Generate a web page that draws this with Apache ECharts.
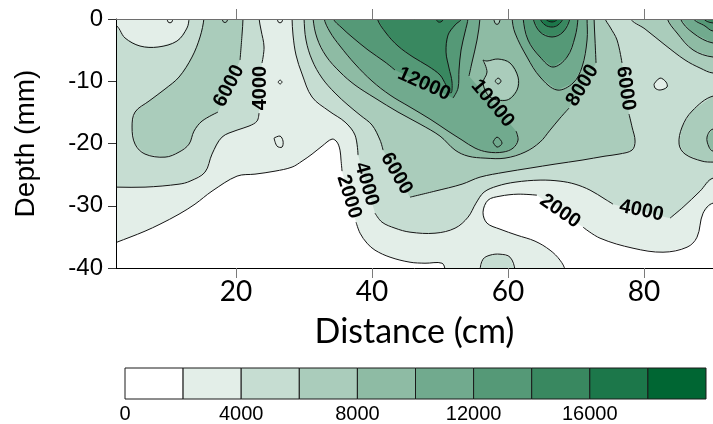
<!DOCTYPE html>
<html>
<head>
<meta charset="utf-8">
<script src="https://cdn.jsdelivr.net/npm/echarts@6/dist/echarts.min.js"></script>
<style>
  html, body { margin: 0; padding: 0; background: #ffffff; }
  #chart { width: 713px; height: 424px; }
</style>
</head>
<body>
<div id="chart"></div>
<script>
// Contour levels (one colour band per 2000 step) and the legend tick labels.
const levelEdges = [0, 2000, 4000, 6000, 8000, 10000, 12000, 14000, 16000, 18000, 20000];
const legendTicks = [0, 4000, 8000, 12000, 16000];
const distanceTicks = [20, 40, 60, 80];
const palette = ['#ffffff', '#e3eee8', '#c6ddd2', '#aaccbb', '#8ebba4',
                 '#71aa8e', '#559977', '#398860', '#1c774a', '#006633'];

// Filled contour regions, [distance cm, depth mm]. Each ring is the area at or above
// its level; null marks a break in the drawn contour line (where a label sits).
// Vertices beyond the plot edges are clipped away.
const band2000 = [[-2,3],[95,3],[95,-29.58],[90.15,-29.58],[88.68,-31.19],[87.79,-35.05],[86.32,-36.66],[82.79,-37.46],[78.38,-36.82],[73.53,-35.21],[71.03,-33.44],null,
  [64.26,-28.3],[61.47,-28.14],[58.82,-28.46],[57.06,-29.1],[56.32,-31.03],[56.91,-32.8],[58.82,-33.76],[61.32,-34.73],[63.97,-35.69],[66.18,-37.14],[67.65,-38.75],[68.38,-40.4],[68.4,-45],[50.7,-45],
  [50.74,-40.4],[50.29,-39.23],[47.79,-39.23],[45.59,-39.07],[42.65,-38.26],[40.44,-37.14],[39.26,-36.01],[38.24,-34.41],[37.65,-32.64],null,
  [35.59,-24.44],[35.44,-22.67],[35.29,-21.06],[34.85,-19.77],[34.12,-19.29],[32.65,-20.42],[31.18,-21.7],[29.71,-22.83],[28.24,-23.79],[25.74,-24.44],[22.79,-24.92],[20.15,-25.24],[16.47,-27.65],[13.97,-29.74],[11.62,-31.35],[8.82,-32.96],[6.62,-34.08],[4.41,-35.05],[2.5,-35.85],[1.76,-36.2],[-2,-37]];
const band4000West = [[13.09,3],[23.38,3],[23.38,0.16],[23.68,-1.77],[24.12,-4.5],[23.82,-7.07],null,
  [23.38,-15.11],[23.09,-16.4],[21.91,-17.2],[20.15,-17.85],[17.94,-18.97],[16.47,-21.7],[15.44,-24.6],[13.24,-26.05],[11.62,-26.53],[6.62,-27.01],[2.5,-27.01],[1.76,-27.01],[-2,-27],[-2,-0.96],[2.2,-0.96],[3.68,-3.05],[5.88,-4.34],[8.53,-4.5],[11.32,-3.54],[12.79,-1.45],[13.09,0.16]];
const band4000Main = [[28.24,3],[95,3],[95,-25.56],[90.15,-25.56],[88.24,-27.65],[85.74,-30.23],[83.82,-31.99],null,
  [75.44,-29.74],[74.26,-28.94],[72.06,-27.49],[69.85,-26.53],[67.65,-26.05],[64.71,-25.88],[61.03,-26.21],[58.38,-26.85],[56.47,-27.81],[55.29,-29.58],[54.12,-31.83],[52.21,-33.6],[49.26,-34.41],[45.59,-34.24],[43.38,-33.6],[41.47,-32.64],[40.44,-31.19],null,
  [37.94,-21.86],[37.5,-18.65],[36.03,-16.56],[33.68,-14.79],[31.18,-12.54],[29.71,-8.84],[28.82,-5.79],[28.38,-2.57],[28.24,0.16]];
const dome4000 = [[55.88,-45],[55.88,-40.4],[56.32,-38.59],[57.35,-37.94],[58.82,-37.78],[60.29,-38.26],[61.03,-40.4],[61.03,-45]];
const hollow2000East = [[81.47,-10.45],[82.35,-9.49],[83.24,-10.13],[83.38,-10.93],[82.35,-11.41],[81.62,-11.09]];
const speckWestA = [[26.18,-10.13],[26.47,-9.81],[26.76,-10.13],[26.47,-10.45]];
const speckWestB = [[25.59,-19.13],[26.47,-18.81],[26.91,-19.61],[26.76,-20.58],[26.03,-20.42]];
const band6000West = [[15.29,3],[21.03,3],[21.03,0.16],[20.88,-2.57],[20.59,-6.59],null,
  [17.35,-14.95],[15,-16.4],[13.82,-18.01],[13.09,-20.1],[11.62,-21.38],[9.56,-22.19],[6.62,-21.7],[5.15,-20.1],[4.71,-17.36],[5.15,-14.95],[7.21,-13.18],[9.56,-11.25],[11.62,-9.32],[13.53,-6.11],[14.71,-2.89],[15.29,0.16]];
const band6000Main = [[30,3],[74.26,3],[74.26,0.16],[75,-1.29],[76.03,-3.38],[76.76,-7.07],null,
  [77.79,-15.27],[78.24,-17.36],[78.68,-19.61],[78.24,-21.06],[76.32,-21.7],[74.26,-22.03],[70.88,-22.67],[66.91,-23.31],[63.24,-23.95],[59.56,-24.6],[55.88,-25.4],[53.24,-26.53],[49.26,-27.65],[45.59,-28.62],null,
  [41.62,-21.06],[41.18,-19.45],[40,-17.04],[38.24,-15.43],[36.47,-13.83],[34.56,-11.9],[32.65,-9.49],[31.18,-6.59],[30.29,-3.38],[30,0.16]];
const band6000NE = [[77.94,3],[95,3],[95,-8.68],[90.15,-8.68],[88.24,-7.88],[86.03,-6.59],[83.09,-4.18],[80.15,-1.61],[77.94,0.16]];
const band6000East = [[95,-12.38],[90.15,-12.38],[87.06,-14.79],[85.59,-17.36],[85.15,-20.1],[86.03,-21.7],[88.53,-22.83],[90.15,-22.99],[95,-22.99]];
const band8000Main = [[31.32,3],[72.65,3],[72.65,0.16],[72.79,-3.38],[72.94,-7.07],null,
  [68.97,-14.31],[67.65,-15.92],[66.18,-17.85],[64.71,-19.77],[62.5,-21.38],[59.56,-22.35],[56.62,-22.35],[54.12,-22.03],[52.21,-21.06],[50,-18.81],[47.06,-16.88],[43.82,-14.95],[40.44,-12.7],[37.5,-10.61],[35.29,-8.52],[33.24,-5.95],[31.91,-3.05],[31.32,0.16]];
const band8000NE = [[83.38,3],[95,3],[95,-6.11],[90.15,-6.11],[87.21,-4.98],[84.85,-2.25],[83.38,0.16]];
const band8000East = [[95,-17.68],[90.15,-17.68],[89.26,-18.97],[89.56,-20.58],[90.15,-21.22],[95,-21.22]];
const hollow6000 = [[56.32,-6.59],[56.91,-8.52],[56.32,-10.29],[57.35,-12.54],[59.85,-13.02],[61.32,-11.41],[61.47,-9.32],[60.29,-7.07],[58.53,-6.43],[56.91,-6.75]];
const speckHollow = [[58.09,-9.97],[58.53,-9.49],[58.97,-9.97],[58.53,-10.45]];
const band10000Main = [[32.94,3],[55.88,3],[55.88,0.16],[55.44,-3.38],[54.71,-6.91],[54.26,-9.16],null,
  [61.18,-18.01],[61.47,-19.45],[60.74,-20.74],[59.26,-21.38],[57.06,-21.38],[55.15,-20.74],[53.24,-19.45],[51.18,-18.01],[48.53,-16.08],[45.59,-14.15],[42.65,-12.22],[40,-9.97],[37.5,-7.23],[35.29,-4.34],[33.82,-2.09],[32.94,0.16]];
const band10000Peak = [[60.59,3],[71.62,3],[71.62,0.16],[71.62,-3.38],[70.88,-7.72],[69.56,-10.29],[67.21,-11.41],[64.71,-9.32],[62.79,-6.11],[61.03,-2.25],[60.59,0.16]];
const band10000NE = [[85.29,3],[95,3],[95,-3.86],[90.15,-3.86],[87.21,-2.25],[85.29,0.16]];
const speckRidge = [[57.79,-19.77],[58.38,-18.97],[59.12,-19.94],[58.38,-20.58]];
const band12000Main = [[34.26,3],[54.12,3],[54.12,0.16],[53.68,-2.09],[53.09,-4.98],[52.79,-8.2],[52.65,-11.09],[51.91,-12.7],null,
  [43.38,-8.2],[41.91,-6.91],[39.41,-4.98],[37.06,-2.89],[35.59,-1.45],[34.26,0.16]];
const band12000Peak = [[62.21,3],[70.29,3],[70.29,0.16],[69.85,-2.89],[68.68,-6.11],[66.62,-7.72],[64.71,-6.11],[62.94,-3.38],[62.21,0.16]];
const band12000NE = [[87.21,3],[95,3],[95,-1.93],[90.15,-1.93],[88.97,-1.13],[87.21,0.16]];
const band14000Main = [[40.74,3],[53.24,3],[53.24,0.16],[52.21,-0.96],[51.18,-2.57],[50.88,-5.31],[51.32,-7.88],[51.76,-10.13],[51.62,-11.9],[50.88,-10.61],[50,-9],[48.24,-7.56],[46.03,-6.11],[43.82,-4.34],[42.06,-2.25],[40.74,0.16]];
const band14000Peak = [[63.68,3],[69.12,3],[69.12,0.16],[68.09,-2.09],[66.47,-2.89],[64.71,-2.09],[63.68,0.16]];
const band14000NE = [[88.68,3],[95,3],[95,-0.64],[90.15,-0.64],[88.68,0.16]];
const band16000Peak = [[64.71,3],[68.09,3],[68.09,0.16],[67.35,-0.96],[66.47,-1.29],[65.44,-0.96],[64.71,0.16]];
const band16000Notch = [[49.41,3],[50.59,3],[50.59,0.16],[50.15,-0.45],[49.7,-0.45],[49.41,0.16]];
const band18000Peak = [[65.44,3],[67.35,3],[67.35,0.16],[66.47,-0.48],[65.44,0.16]];
// tiny closed contours touching the surface
const surfaceLoopA = [[9.85,3],[10.73,3],[10.73,0.16],[10.55,-0.5],[10.29,-0.6],[10.02,-0.5],[9.85,0.16]];
const surfaceLoopB = [[17.95,3],[18.8,3],[18.8,0.16],[18.62,-0.45],[18.38,-0.55],[18.12,-0.45],[17.95,0.16]];
const surfaceLoopC = [[26.05,3],[26.9,3],[26.9,0.16],[26.72,-0.5],[26.47,-0.6],[26.22,-0.5],[26.05,0.16]];
const surfaceLoopD = [[57.9,3],[58.85,3],[58.85,0.16],[58.65,-0.7],[58.38,-0.85],[58.1,-0.7],[57.9,0.16]];

// Drawing order: [colour band index, ring]
const regions = [
  [1, band2000], [2, band4000West], [2, band4000Main], [2, dome4000],
  [1, hollow2000East], [1, speckWestA], [1, speckWestB],
  [3, band6000West], [3, band6000Main], [3, band6000NE], [3, band6000East],
  [4, band8000Main], [4, band8000NE], [4, band8000East],
  [3, hollow6000], [3, speckHollow],
  [5, band10000Main], [5, band10000Peak], [5, band10000NE], [5, speckRidge],
  [6, band12000Main], [6, band12000Peak], [6, band12000NE],
  [7, band14000Main], [7, band14000Peak], [7, band14000NE],
  [8, band16000Peak], [8, band16000Notch], [9, band18000Peak],
  [1, surfaceLoopA], [3, surfaceLoopB], [1, surfaceLoopC], [3, surfaceLoopD]
];

// Contour labels: text, anchor [distance, depth], angle in degrees
const labelText = ['2000', '2000', '4000', '4000', '4000', '6000', '6000', '6000', '8000', '10000', '12000'];
const labelAnchor = [[36.62,-28.54], [67.65,-30.87], [23.6,-11.09], [39.19,-26.53], [79.63,-30.79],
                     [18.97,-10.77], [43.6,-24.84], [77.28,-11.17], [70.96,-10.69], [57.72,-13.58], [47.65,-10.45]];
const labelAngle = [-73, -35, 90, -74, -12, 62, -60, -82, 59, -50, -24];

const chart = echarts.init(document.getElementById('chart'), null, { renderer: 'canvas' });

function line(pts) {
  return { type: 'polyline', shape: { points: pts, smooth: 0.35 },
           style: { fill: null, stroke: '#141414', lineWidth: 1 } };
}

function regionItem(params, api) {
  const lv = regions[params.dataIndex][0];
  const ring = regions[params.dataIndex][1];
  const cs = params.coordSys;
  const fillPts = ring.filter(p => p).map(p => api.coord(p));
  const children = [{
    type: 'polygon', shape: { points: fillPts },
    style: { fill: palette[lv], stroke: null }
  }];
  let seg = [];
  ring.concat([ring[0]]).forEach(p => {
    if (!p) { if (seg.length > 1) children.push(line(seg)); seg = []; }
    else seg.push(api.coord(p));
  });
  if (seg.length > 1) children.push(line(seg));
  return {
    type: 'group', children: children,
    clipPath: { type: 'rect', shape: { x: cs.x, y: cs.y, width: cs.width, height: cs.height } }
  };
}

function labelItem(params, api) {
  const i = params.dataIndex;
  const p = api.coord([api.value(0), api.value(1)]);
  return {
    type: 'text', x: p[0], y: p[1], rotation: labelAngle[i] * Math.PI / 180,
    style: { text: labelText[i], fill: '#000', fontSize: 20, fontWeight: 'bold',
             fontFamily: 'Liberation Sans, Arial, sans-serif',
             align: 'center', verticalAlign: 'middle' }
  };
}

function legendItem(params, api) {
  const a = api.coord([api.value(0), 1]);
  const b = api.coord([api.value(1), 0]);
  return {
    type: 'rect', shape: { x: a[0], y: a[1], width: b[0] - a[0], height: b[1] - a[1] },
    style: { fill: palette[params.dataIndex], stroke: '#1a1a1a', lineWidth: 1 }
  };
}

const tickFont = 'Liberation Sans, Arial, sans-serif';
const titleFont = 'Lato, Carlito, sans-serif';

chart.setOption({
  animation: false,
  backgroundColor: '#ffffff',
  grid: [
    { left: 116, right: 0, top: 19, bottom: 156 },
    { left: 125, right: 7, top: 368, height: 33 }
  ],
  xAxis: [
    { gridIndex: 0, type: 'value', position: 'bottom', min: 2.35, max: 90.14, z: 10,
      splitLine: { show: false },
      axisLine: { onZero: false, lineStyle: { color: '#000', width: 1 } },
      axisTick: { customValues: distanceTicks, length: 10, lineStyle: { color: '#7a7a7a' } },
      axisLabel: { customValues: distanceTicks, fontFamily: titleFont, fontSize: 28, color: '#000', margin: 10 },
      name: 'Distance (cm)', nameLocation: 'middle', nameGap: 47,
      nameTextStyle: { fontFamily: titleFont, fontSize: 34, color: '#000' } },
    { gridIndex: 0, type: 'value', position: 'top', min: 2.35, max: 90.14, z: 10,
      splitLine: { show: false },
      axisLine: { onZero: false, lineStyle: { color: '#6e6e6e', width: 1 } },
      axisTick: { customValues: distanceTicks, length: 10, lineStyle: { color: '#7a7a7a' } },
      axisLabel: { show: false } },
    { gridIndex: 1, type: 'value', min: 0, max: 20000,
      splitLine: { show: false }, axisLine: { show: false }, axisTick: { show: false },
      axisLabel: { customValues: legendTicks, formatter: v => String(v),
                   fontFamily: tickFont, fontSize: 20, color: '#000', margin: 5 } }
  ],
  yAxis: [
    { gridIndex: 0, type: 'value', min: -40, max: 0, interval: 10, z: 10,
      splitLine: { show: false },
      axisLine: { onZero: false, lineStyle: { color: '#000', width: 1 } },
      axisTick: { length: 8, lineStyle: { color: '#333' } },
      axisLabel: { fontFamily: tickFont, fontSize: 24, color: '#000', margin: 13 },
      name: 'Depth (mm)', nameLocation: 'middle', nameGap: 76, nameRotate: 90,
      nameTextStyle: { fontFamily: tickFont, fontSize: 28, color: '#000' } },
    { gridIndex: 1, type: 'value', min: 0, max: 1, show: false }
  ],
  series: [
    { type: 'custom', name: 'bands', xAxisIndex: 0, yAxisIndex: 0, z: 2, silent: true,
      renderItem: regionItem, data: regions.map(r => r[1][0]) },
    { type: 'custom', name: 'labels', xAxisIndex: 0, yAxisIndex: 0, z: 3, silent: true,
      renderItem: labelItem, data: labelAnchor },
    { type: 'custom', name: 'legend', xAxisIndex: 2, yAxisIndex: 1, z: 2, silent: true,
      renderItem: legendItem,
      data: levelEdges.slice(0, -1).map((lo, i) => [lo, levelEdges[i + 1]]) }
  ]
});
</script>
</body>
</html>
